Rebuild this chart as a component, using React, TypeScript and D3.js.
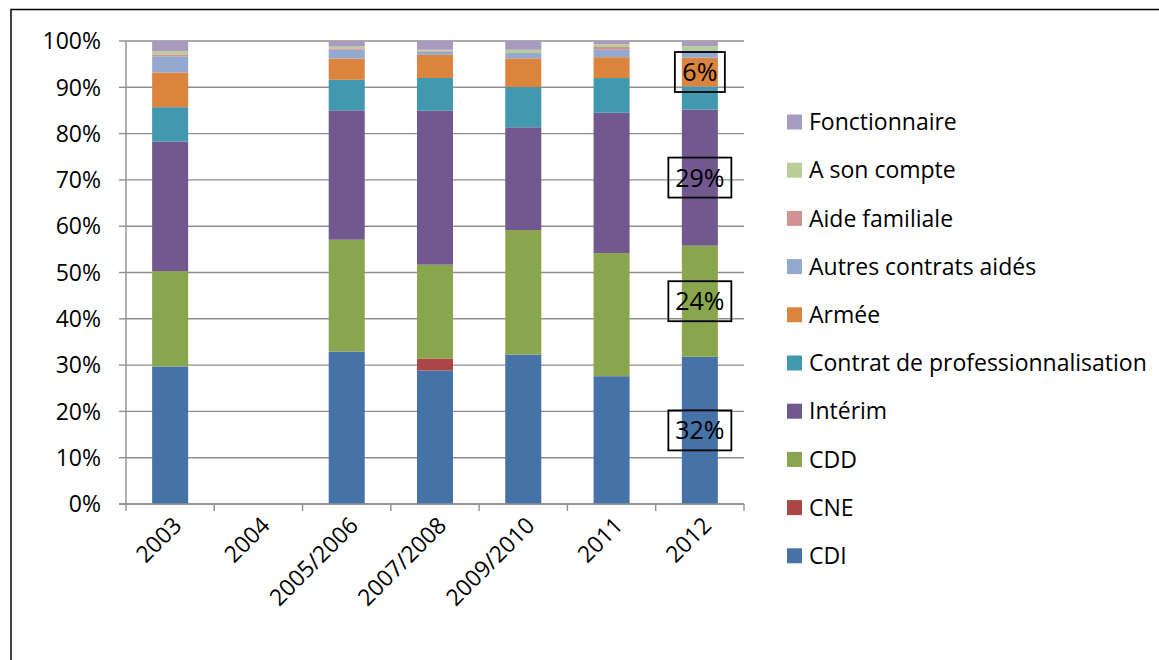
import React from "react";
import * as d3 from "d3";

const categories = ["2003", "2004", "2005/2006", "2007/2008", "2009/2010", "2011", "2012"];

const cdi = [29.7, 0, 33.0, 28.9, 32.3, 27.6, 31.8];
const cne = [0, 0, 0, 2.6, 0, 0, 0];
const cdd = [20.6, 0, 24.2, 20.3, 26.9, 26.6, 24.0];
const interim = [28.0, 0, 28.0, 33.3, 22.2, 30.3, 29.4];
const contratPro = [7.4, 0, 6.6, 7.1, 8.7, 7.5, 5.0];
const armee = [7.5, 0, 4.6, 5.0, 6.2, 4.5, 6.2];
const autresAides = [3.5, 0, 1.9, 0.7, 1.15, 1.6, 1.6];
const aideFamiliale = [0.4, 0, 0.3, 0.2, 0, 0.6, 0];
const sonCompte = [0.7, 0, 0.4, 0.2, 0.7, 0.6, 0.85];
const fonctionnaire = [2.2, 0, 1.2, 1.9, 1.9, 0.7, 1.15];

const seriesNames = [
  "CDI",
  "CNE",
  "CDD",
  "Intérim",
  "Contrat de professionnalisation",
  "Armée",
  "Autres contrats aidés",
  "Aide familiale",
  "A son compte",
  "Fonctionnaire",
];
const seriesValues = [cdi, cne, cdd, interim, contratPro, armee, autresAides, aideFamiliale, sonCompte, fonctionnaire];
const seriesColors = [
  "#4572A7",
  "#AA4643",
  "#89A54E",
  "#71588F",
  "#4198AF",
  "#DB843D",
  "#93A9CF",
  "#D19392",
  "#B9CD96",
  "#A99BBD",
];

const yTicks = [0, 0.1, 0.2, 0.3, 0.4, 0.5, 0.6, 0.7, 0.8, 0.9, 1];
const labelledCategory = "2012";
const labelledSeries = ["CDI", "CDD", "Intérim", "Armée"];

const W = 1159;
const H = 660;
const plot = { left: 126, right: 744, top: 41, bottom: 504 };
const FONT = "'Open Sans', 'DejaVu Sans', sans-serif";

export default function App() {
  const rows = categories.map((c, i) => {
    const r: any = { cat: c };
    seriesNames.forEach((s, k) => (r[s] = seriesValues[k][i]));
    return r;
  });
  const stack = d3.stack<any>().keys(seriesNames).offset(d3.stackOffsetExpand);
  const layers = stack(rows);

  const x = d3
    .scaleBand<string>()
    .domain(categories)
    .range([plot.left, plot.right])
    .paddingInner(0.592)
    .paddingOuter(0.296);
  const y = d3.scaleLinear().domain([0, 1]).range([plot.bottom, plot.top]);
  const fmt = d3.format(".0%");
  const step = x.step();
  const boundaries = d3.range(categories.length + 1).map((i) => plot.left + i * step);

  const legendX = 787;
  const legendTop = 122;
  const legendStep = 48.2;
  const legendOrder = seriesNames.map((_, i) => seriesNames.length - 1 - i);

  return (
    <svg
      width={W}
      height={H}
      style={{ position: "absolute", left: 0, top: 0, background: "#fff" }}
      fontFamily={FONT}
    >
      <rect x={0} y={0} width={W} height={H} fill="#fff" />
      <rect x={11} y={9.5} width={1160} height={700} fill="none" stroke="#000" strokeWidth={1.5} />

      {/* gridlines */}
      {yTicks.map((t) => (
        <line key={"g" + t} x1={plot.left} x2={plot.right} y1={y(t)} y2={y(t)} stroke="#8f8f8f" strokeWidth={1.4} />
      ))}

      {/* bars */}
      {layers.map((layer, k) => (
        <g key={layer.key} fill={seriesColors[k]}>
          {layer.map((d, i) => {
            const h = y(d[0]) - y(d[1]);
            if (!(h > 0)) return null;
            return (
              <rect key={i} x={x(categories[i])} y={y(d[1])} width={x.bandwidth()} height={h} />
            );
          })}
        </g>
      ))}

      {/* axes */}
      <line x1={plot.left} x2={plot.left} y1={plot.top} y2={plot.bottom} stroke="#8f8f8f" strokeWidth={1.4} />
      <line x1={plot.left - 7} x2={plot.right} y1={plot.bottom} y2={plot.bottom} stroke="#8f8f8f" strokeWidth={1.4} />
      {yTicks.map((t) => (
        <g key={"yt" + t}>
          <line x1={plot.left - 7} x2={plot.left} y1={y(t)} y2={y(t)} stroke="#8f8f8f" strokeWidth={1.4} />
          <text x={101} y={y(t)} dy="0.36em" textAnchor="end" fontSize={23} fill="#000">
            {fmt(t)}
          </text>
        </g>
      ))}
      {boundaries.map((b, i) => (
        <line key={"xt" + i} x1={b} x2={b} y1={plot.bottom} y2={plot.bottom + 7} stroke="#8f8f8f" strokeWidth={1.4} />
      ))}
      {categories.map((c) => {
        const cx = (x(c) as number) + x.bandwidth() / 2;
        return (
          <text
            key={"xl" + c}
            transform={`translate(${cx + 7},${plot.bottom + 17}) rotate(-45)`}
            textAnchor="end"
            dy="0.36em"
            fontSize={23}
            fill="#000"
          >
            {c}
          </text>
        );
      })}

      {/* data labels */}
      {layers
        .filter((l) => labelledSeries.includes(l.key))
        .map((layer) => {
          const i = categories.indexOf(labelledCategory);
          const d = layer[i];
          const k = seriesNames.indexOf(layer.key);
          const v = seriesValues[k][i];
          const label = Math.round(v) + "%";
          const cx = (x(labelledCategory) as number) + x.bandwidth() / 2;
          const cy = (y(d[0]) + y(d[1])) / 2;
          const bw = 13 * label.length + 24;
          return (
            <g key={"lab" + layer.key}>
              <rect x={cx - bw / 2} y={cy - 20} width={bw} height={40} fill="none" stroke="#000" strokeWidth={1.8} />
              <text x={cx} y={cy} dy="0.36em" textAnchor="middle" fontSize={25} fill="#000">
                {label}
              </text>
            </g>
          );
        })}

      {/* legend */}
      {legendOrder.map((k, j) => {
        const cy = legendTop + j * legendStep;
        return (
          <g key={"lg" + k}>
            <rect x={legendX} y={cy - 7.5} width={15} height={15} fill={seriesColors[k]} />
            <text x={809} y={cy} dy="0.36em" fontSize={23} fill="#000">
              {seriesNames[k]}
            </text>
          </g>
        );
      })}
    </svg>
  );
}
